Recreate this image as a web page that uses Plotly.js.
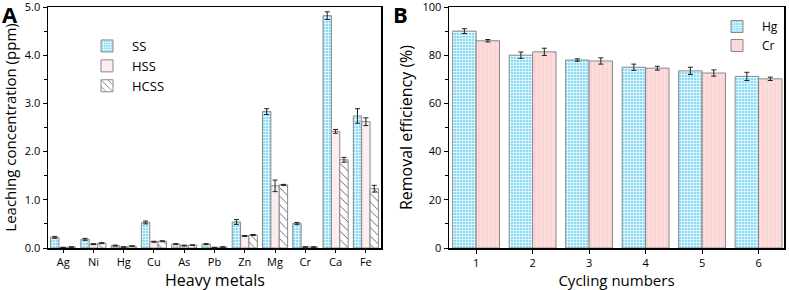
<!DOCTYPE html>
<html><head><meta charset="utf-8">
<script src="https://cdn.plot.ly/plotly-3.0.1.min.js"></script>
<style>body{margin:0;padding:0;background:#fff}#chart{width:789px;height:290px}</style>
</head><body><div id="chart"></div>
<script>
// Panel A data
const metals = ['Ag','Ni','Hg','Cu','As','Pb','Zn','Mg','Cr','Ca','Fe'];
const ssVals   = [0.22,0.18,0.05,0.53,0.08,0.08,0.54,2.83,0.51,4.82,2.74];
const ssErr    = [0.02,0.02,0.01,0.03,0.01,0.01,0.05,0.06,0.02,0.08,0.15];
const hssVals  = [0.01,0.08,0.02,0.13,0.05,0.01,0.25,1.29,0.02,2.42,2.62];
const hssErr   = [0.005,0.01,0.005,0.01,0.01,0.005,0.01,0.12,0.005,0.04,0.08];
const hcssVals = [0.02,0.10,0.04,0.14,0.06,0.02,0.27,1.31,0.02,1.83,1.23];
const hcssErr  = [0.005,0.01,0.005,0.01,0.005,0.005,0.01,0.01,0.005,0.05,0.07];
const yTicksA = [0,1,2,3,4,5];
const yTickTextA = ['0.0','1.0','2.0','3.0','4.0','5.0'];

// Panel B data
const cycles = [1,2,3,4,5,6];
const hgVals = [90.0,80.0,78.0,75.0,73.5,71.2];
const hgErr  = [1.0,1.3,0.5,1.3,1.5,1.7];
const crVals = [86.0,81.4,77.6,74.6,72.6,70.2];
const crErr  = [0.5,1.5,1.3,0.8,1.3,0.7];
const yTicksB = [0,20,40,60,80,100];

const FONT = 'Open Sans, Noto Sans, sans-serif';
const errStyle = (arr) => ({type:'data', array:arr, visible:true, color:'#222', thickness:1, width:2.5});
const cyanPat = {shape:'.', fgcolor:'#ffffff', bgcolor:'#5ccff3', size:3, solidity:0.55, fillmode:'replace'};
const lineGray = {color:'#8a8a8a', width:1};

const traces = [
  {type:'bar', x:metals, y:ssVals, name:'SS', xaxis:'x', yaxis:'y', legend:'legend',
   marker:{color:'#5ccff3', line:lineGray, pattern:cyanPat}, error_y:errStyle(ssErr)},
  {type:'bar', x:metals, y:hssVals, name:'HSS', xaxis:'x', yaxis:'y', legend:'legend',
   marker:{color:'#fdeded', line:lineGray}, error_y:errStyle(hssErr)},
  {type:'bar', x:metals, y:hcssVals, name:'HCSS', xaxis:'x', yaxis:'y', legend:'legend',
   marker:{color:'#ffffff', line:lineGray, pattern:{shape:'\\', fgcolor:'#333', bgcolor:'#ffffff', size:6, solidity:0.12}}, error_y:errStyle(hcssErr)},
  {type:'bar', x:cycles, y:hgVals, name:'Hg', xaxis:'x2', yaxis:'y2', legend:'legend2',
   marker:{color:'#5ccff3', line:lineGray, pattern:cyanPat}, error_y:errStyle(hgErr)},
  {type:'bar', x:cycles, y:crVals, name:'Cr', xaxis:'x2', yaxis:'y2', legend:'legend2',
   marker:{color:'#fdd9d9', line:lineGray, pattern:{shape:'|', fgcolor:'#f8c8c8', bgcolor:'#fddcdc', size:4, solidity:0.2}}, error_y:errStyle(crErr)}
];

const axBase = {showline:true, linecolor:'#000', linewidth:1.5, mirror:true, showgrid:false, zeroline:false,
  ticks:'outside', ticklen:4, tickwidth:1, tickcolor:'#000', ticklabeloverflow:'allow',
  tickfont:{family:FONT, size:11, color:'#000'}};

const layout = {
  width:789, height:290, margin:{l:0,r:0,t:0,b:0}, paper_bgcolor:'#fff', plot_bgcolor:'#fff',
  font:{family:FONT, color:'#000'},
  barmode:'group', bargap:0.17, bargroupgap:0,
  xaxis: Object.assign({}, axBase, {domain:[48/789, 381/789], anchor:'y', type:'category', range:[-0.5,10.5], ticklen:3}),
  yaxis: Object.assign({}, axBase, {domain:[1-248/290, 1-7/290], anchor:'x', range:[0,5], tickvals:yTicksA, ticktext:yTickTextA,
    minor:{ticks:'outside', ticklen:2.5, dtick:0.5, tickcolor:'#000'},
    title:{text:'Leaching concentration (ppm)', font:{family:FONT, size:15}, standoff:5}}),
  xaxis2: Object.assign({}, axBase, {domain:[449/789, 784/789], anchor:'y2', range:[0.52,6.45], tickvals:cycles,
    title:{text:'Cycling numbers', font:{family:FONT, size:15}, standoff:2}}),
  yaxis2: Object.assign({}, axBase, {domain:[1-248/290, 1-7/290], anchor:'x2', range:[0,100], tickvals:yTicksB,
    minor:{ticks:'outside', ticklen:2.5, dtick:10, tickcolor:'#000'},
    title:{text:'Removal efficiency (%)', font:{family:FONT, size:16}, standoff:6}}),
  legend:{x:82/789, y:1-31/290, xanchor:'left', yanchor:'top', bgcolor:'rgba(0,0,0,0)', font:{family:FONT, size:13},
    tracegroupgap:0, itemwidth:40, traceorder:'normal'},
  legend2:{x:712/789, y:1-12/290, xanchor:'left', yanchor:'top', bgcolor:'rgba(0,0,0,0)', font:{family:FONT, size:12},
    itemwidth:40, traceorder:'normal'},
  annotations:[
    {text:'<b>A</b>', x:0, y:1.01, xref:'paper', yref:'paper', xanchor:'left', yanchor:'top', showarrow:false, font:{family:FONT, size:22}},
    {text:'<b>B</b>', x:391/789, y:1.01, xref:'paper', yref:'paper', xanchor:'left', yanchor:'top', showarrow:false, font:{family:FONT, size:22}},
    {text:'Heavy metals', x:(48+381)/2/789, y:0, xref:'paper', yref:'paper', xanchor:'center', yanchor:'bottom', yshift:-2,
     showarrow:false, borderpad:0, font:{family:FONT, size:16}}
  ]
};

Plotly.newPlot('chart', traces, layout, {displayModeBar:false, staticPlot:true});
</script></body></html>
